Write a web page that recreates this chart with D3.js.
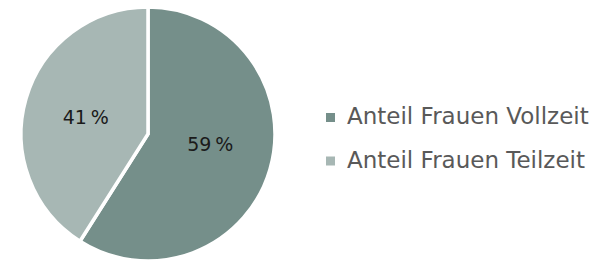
<!DOCTYPE html>
<html>
<head>
<meta charset="utf-8">
<script src="https://cdn.jsdelivr.net/npm/d3@7"></script>
<style>
  body { margin: 0; background: #fff; }
  svg { display: block; }
</style>
</head>
<body>
<svg id="chart" width="599" height="260"></svg>
<script>
// data
var categories = ['Anteil Frauen Vollzeit', 'Anteil Frauen Teilzeit'];
var values = [59, 41];
var colors = ['#758f8a', '#a7b7b4'];

var svg = d3.select('#chart');
var cx = 148, cy = 134, radius = 127;

var pie = d3.pie().sort(null).value(function (d) { return d; });
var arc = d3.arc().innerRadius(0).outerRadius(radius);
var labelArc = d3.arc().innerRadius(radius * 0.51).outerRadius(radius * 0.51);

var g = svg.append('g').attr('transform', 'translate(' + cx + ',' + cy + ')');

var slices = g.selectAll('g.slice')
    .data(pie(values))
    .enter()
    .append('g')
    .attr('class', 'slice');

slices.append('path')
    .attr('d', arc)
    .attr('fill', function (d, i) { return colors[i]; })
    .attr('stroke', '#fff')
    .attr('stroke-width', 3.5)
    .attr('stroke-linejoin', 'miter');

// excel puts the big slice label a bit higher than its centroid
slices.append('text')
    .attr('transform', function (d, i) {
        var c = labelArc.centroid(d);
        return 'translate(' + c[0] + ',' + (c[1] + (i === 0 ? -8 : 1)) + ')';
    })
    .attr('text-anchor', 'middle')
    .attr('dy', '0.36em')
    .attr('font-family', 'DejaVu Sans, sans-serif')
    .attr('font-size', 19)
    .attr('fill', '#1a1a1a')
    .text(function (d) { return d.data + '\u2009%'; });

// legend
var legend = svg.append('g').attr('transform', 'translate(326,124)');
var items = legend.selectAll('g')
    .data(categories)
    .enter()
    .append('g')
    .attr('transform', function (d, i) { return 'translate(0,' + (i * 43.5) + ')'; });

items.append('rect')
    .attr('x', 0)
    .attr('y', -11)
    .attr('width', 9)
    .attr('height', 9)
    .attr('fill', function (d, i) { return colors[i]; });

items.append('text')
    .attr('x', 21)
    .attr('y', 0)
    .attr('font-family', 'DejaVu Sans, sans-serif')
    .attr('font-size', 23)
    .attr('fill', '#595959')
    .text(function (d) { return d; });
</script>
</body>
</html>
